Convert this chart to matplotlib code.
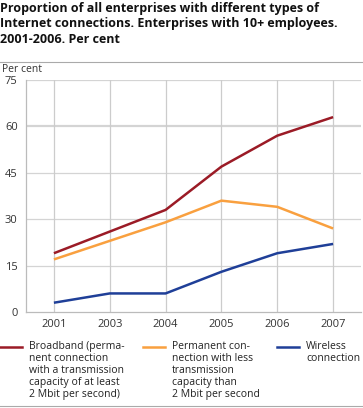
import matplotlib
matplotlib.use("Agg")
import matplotlib.pyplot as plt
from matplotlib.lines import Line2D

plt.rcParams['font.family'] = ['Open Sans', 'DejaVu Sans']

years = ['2001', '2003', '2004', '2005', '2006', '2007']
broadband = [19, 26, 33, 47, 57, 63]
permanent = [17, 23, 29, 36, 34, 27]
wireless = [3, 6, 6, 13, 19, 22]
yticks = [0, 15, 30, 45, 60, 75]

labels = ['Broadband (perma-\nnent connection\nwith a transmission\ncapacity of at least\n2 Mbit per second)',
          'Permanent con-\nnection with less\ntransmission\ncapacity than\n2 Mbit per second',
          'Wireless\nconnection']
colors = ['#9b1b26', '#f9a03f', '#1f3f98']

W, H = 363, 408
fig = plt.figure(figsize=(W / 100, H / 100), dpi=100)
ax = fig.add_axes([26 / W, 1 - 312 / H, (361 - 26) / W, (312 - 80) / H])

x = list(range(len(years)))
for vals, c in zip([broadband, permanent, wireless], colors):
    ax.plot(x, vals, color=c, lw=1.8, solid_capstyle='butt', zorder=3)

ax.set_xlim(-0.5, len(years) - 0.5)
ax.set_ylim(0, 75)
ax.set_yticks(yticks)
ax.set_xticks(x)
ax.set_xticklabels(years)
ax.tick_params(length=0, labelsize=8, colors='#333333', pad=5)
ax.tick_params(axis='y', pad=6)
for y in yticks[1:]:
    ax.axhline(y, color='#d4d4d4', lw=1.6 if y == 60 else 0.9, zorder=1)
for xi in x:
    ax.axvline(xi, color='#cccccc', lw=0.9, zorder=1)
for s in ['top', 'right']:
    ax.spines[s].set_visible(False)
for s in ['left', 'bottom']:
    ax.spines[s].set_color('#bbbbbb')
    ax.spines[s].set_linewidth(0.9)

fig.text(0, 1 - 2 / H, 'Proportion of all enterprises with different types of\nInternet connections. Enterprises with 10+ employees.\n2001-2006. Per cent',
         ha='left', va='top', fontsize=9, fontweight='bold', linespacing=1.25, color='#111111')
fig.add_artist(Line2D([0, 1], [1 - 62 / H, 1 - 62 / H], color='#aaaaaa', lw=0.8))
fig.text(2 / W, 1 - 70 / H, 'Per cent', ha='left', va='center', fontsize=7.5, color='#333333')

# legend
hx = [0, 143, 277]
for i in range(3):
    yl = 1 - 347 / H
    fig.add_artist(Line2D([hx[i] / W, (hx[i] + 22) / W], [yl, yl], color=colors[i], lw=1.8))
    fig.text((hx[i] + 29) / W, 1 - 341 / H, labels[i], ha='left', va='top', fontsize=7.5,
             linespacing=1.12, color='#222222')
fig.add_artist(Line2D([0, 1], [1 - 406 / H, 1 - 406 / H], color='#aaaaaa', lw=0.8))

fig.savefig('out.png', dpi=100)
